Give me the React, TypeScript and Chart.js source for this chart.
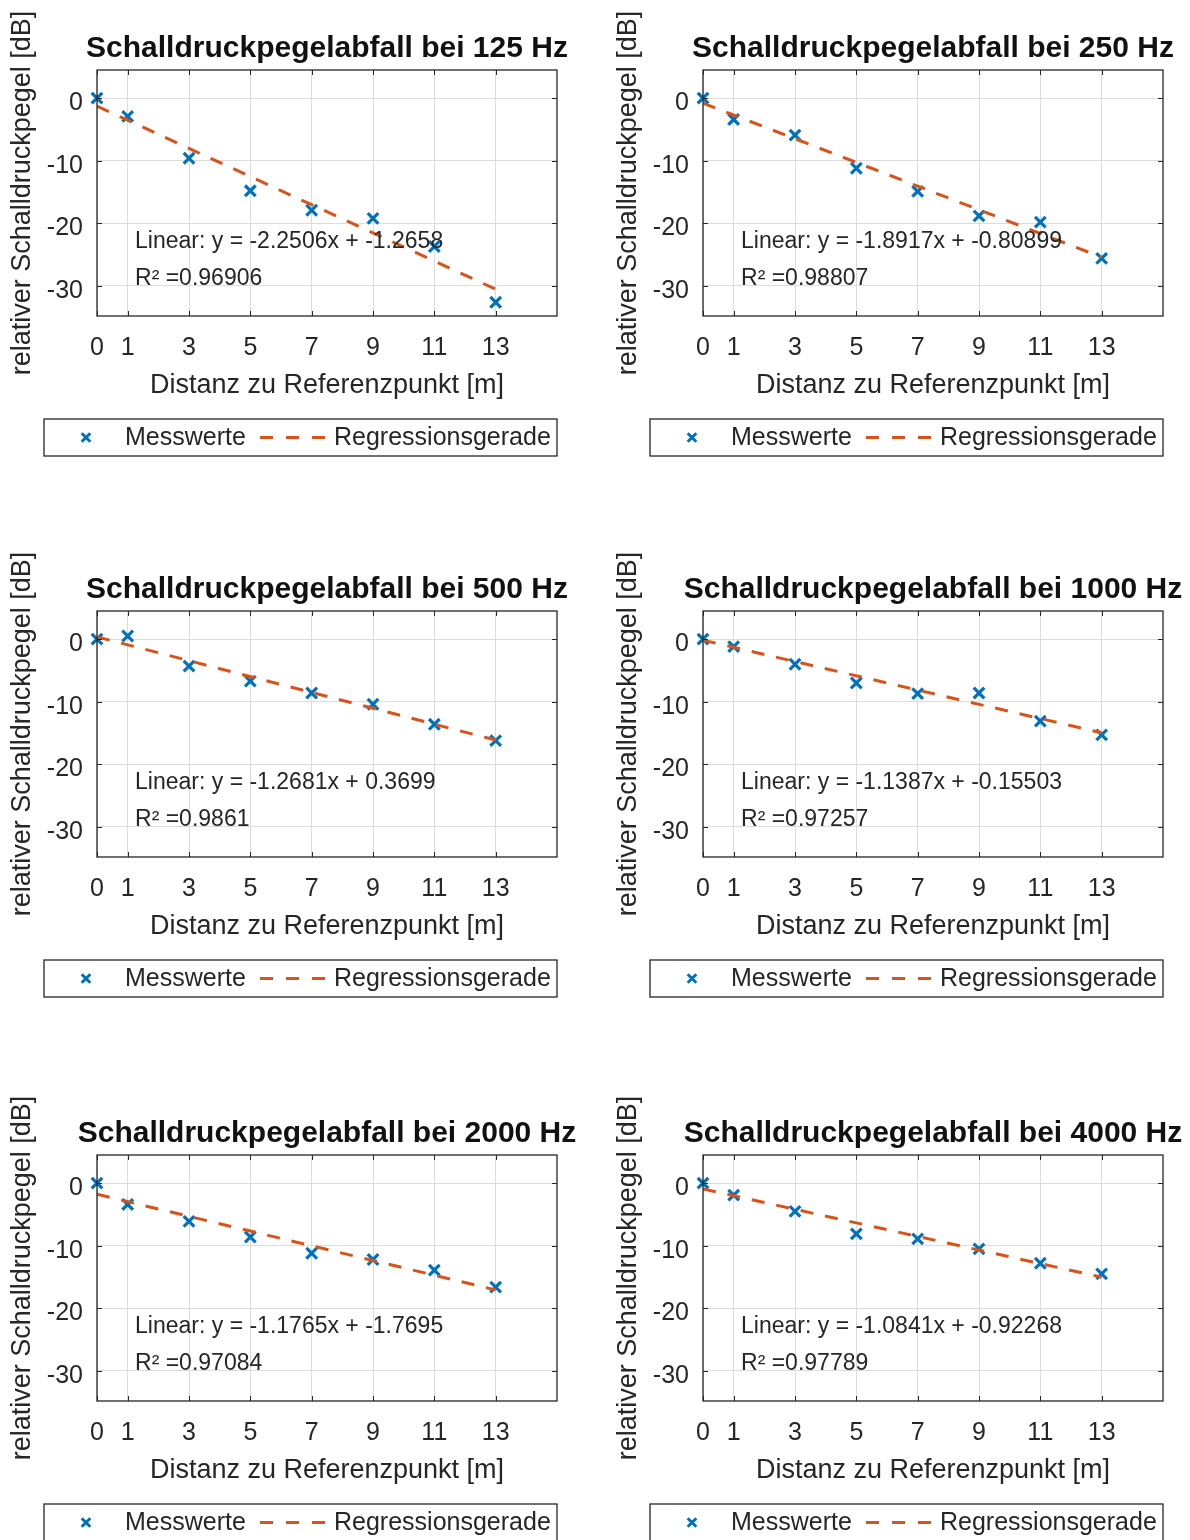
import React, { useEffect, useRef } from "react";
import { Chart, registerables } from "chart.js";

Chart.register(...registerables);

// ---------- data ----------
const distances = [0, 1, 3, 5, 7, 9, 11, 13];
const xTickValues = [0, 1, 3, 5, 7, 9, 11, 13];
const yTickValues = [-30, -20, -10, 0];
const frequencies = ["125", "250", "500", "1000", "2000", "4000"];

const level125 = [0, -2.9, -9.6, -14.8, -17.9, -19.2, -23.7, -32.6];
const level250 = [0, -3.4, -5.9, -11.2, -14.9, -18.8, -19.8, -25.6];
const level500 = [0, 0.5, -4.3, -6.7, -8.6, -10.4, -13.6, -16.2];
const level1000 = [0, -1.2, -4.0, -7.0, -8.7, -8.6, -13.1, -15.3];
const level2000 = [0, -3.4, -6.1, -8.6, -11.2, -12.2, -13.9, -16.6];
const level4000 = [0, -1.9, -4.5, -8.1, -8.9, -10.5, -12.8, -14.5];

const fitX = [0, 13];
const fit125 = [-1.27, -30.52];
const fit250 = [-0.81, -25.4];
const fit500 = [0.37, -16.12];
const fit1000 = [-0.16, -14.96];
const fit2000 = [-1.77, -17.06];
const fit4000 = [-0.92, -15.02];

const equations = [
  "Linear: y = -2.2506x + -1.2658",
  "Linear: y = -1.8917x + -0.80899",
  "Linear: y = -1.2681x + 0.3699",
  "Linear: y = -1.1387x + -0.15503",
  "Linear: y = -1.1765x + -1.7695",
  "Linear: y = -1.0841x + -0.92268",
];
const rSquared = ["0.96906", "0.98807", "0.9861", "0.97257", "0.97084", "0.97789"];

const seriesLabels = ["Messwerte", "Regressionsgerade"];
const xAxisTitle = "Distanz zu Referenzpunkt [m]";
const yAxisTitle = "relativer Schalldruckpegel [dB]";

const levels = [level125, level250, level500, level1000, level2000, level4000];
const fits = [fit125, fit250, fit500, fit1000, fit2000, fit4000];

// ---------- layout / style ----------
const FONT = "'Liberation Sans', Arial, Helvetica, sans-serif";
const BLUE = "#0072BD";
const ORANGE = "#D95319";
const AXIS = "#262626";
const GRID = "#dcdcdc";
const AREA = { left: 97, top: 70, right: 557, bottom: 316 };
const X_AXIS_H = 86;
const ANNOT_X = 1.24;
const ANNOT_Y = [-22.9, -28.8];
const COL_LEFT = [0, 606];
const ROW_TOP = [0, 541, 1085];
const CANVAS_H = 545;

const decorPlugin = {
  id: "matlabDecor",
  afterDraw(chart: any, _args: any, opts: any) {
    const { ctx, chartArea: a, scales } = chart;
    const xs = scales.x;
    const ys = scales.y;
    ctx.save();
    // box
    ctx.strokeStyle = AXIS;
    ctx.lineWidth = 1.3;
    ctx.strokeRect(a.left, a.top, a.right - a.left, a.bottom - a.top);
    // inward ticks
    ctx.lineWidth = 1;
    const tl = 5;
    ctx.beginPath();
    xTickValues.forEach((v) => {
      const px = Math.round(xs.getPixelForValue(v)) + 0.5;
      ctx.moveTo(px, a.bottom);
      ctx.lineTo(px, a.bottom - tl);
      ctx.moveTo(px, a.top);
      ctx.lineTo(px, a.top + tl);
    });
    yTickValues.forEach((v) => {
      const py = Math.round(ys.getPixelForValue(v)) + 0.5;
      ctx.moveTo(a.left, py);
      ctx.lineTo(a.left + tl, py);
      ctx.moveTo(a.right, py);
      ctx.lineTo(a.right - tl, py);
    });
    ctx.stroke();

    // title
    ctx.fillStyle = "#111";
    ctx.font = `bold 30px ${FONT}`;
    ctx.textAlign = "center";
    ctx.textBaseline = "alphabetic";
    ctx.fillText(opts.title, (a.left + a.right) / 2, 57);

    // annotations
    ctx.fillStyle = AXIS;
    ctx.font = `23px ${FONT}`;
    ctx.textAlign = "left";
    ctx.textBaseline = "middle";
    const ax = xs.getPixelForValue(ANNOT_X);
    ctx.fillText(opts.eq, ax, ys.getPixelForValue(ANNOT_Y[0]));
    ctx.fillText(opts.r2, ax, ys.getPixelForValue(ANNOT_Y[1]));

    // legend
    const lx = 44;
    const ly = 419;
    const lh = 37;
    const cy = ly + lh / 2;
    ctx.fillStyle = "#fff";
    ctx.fillRect(lx, ly, a.right - lx, lh);
    ctx.strokeStyle = AXIS;
    ctx.lineWidth = 1.3;
    ctx.strokeRect(lx, ly, a.right - lx, lh);
    // marker
    ctx.strokeStyle = BLUE;
    ctx.lineWidth = 3;
    const m = 4.3;
    ctx.beginPath();
    ctx.moveTo(86 - m, cy - m);
    ctx.lineTo(86 + m, cy + m);
    ctx.moveTo(86 + m, cy - m);
    ctx.lineTo(86 - m, cy + m);
    ctx.stroke();
    // dashed line
    ctx.strokeStyle = ORANGE;
    ctx.lineWidth = 3;
    ctx.setLineDash([13, 13]);
    ctx.beginPath();
    ctx.moveTo(260, cy);
    ctx.lineTo(330, cy);
    ctx.stroke();
    ctx.setLineDash([]);
    ctx.fillStyle = AXIS;
    ctx.font = `25px ${FONT}`;
    ctx.textAlign = "left";
    ctx.textBaseline = "middle";
    ctx.fillText(seriesLabels[0], 125, cy + 1);
    ctx.fillText(seriesLabels[1], 334, cy + 1);
    ctx.restore();
  },
};

function Panel({ index }: { index: number }) {
  const ref = useRef<HTMLCanvasElement>(null);
  const col = index % 2;
  const row = Math.floor(index / 2);
  const width = col === 0 ? 600 : 1190 - COL_LEFT[1];
  const height = CANVAS_H;

  useEffect(() => {
    const canvas = ref.current;
    if (!canvas) return;
    const chart = new Chart(canvas, {
      type: "scatter",
      data: {
        datasets: [
          {
            label: seriesLabels[0],
            data: distances.map((d, i) => ({ x: d, y: levels[index][i] })),
            pointStyle: "crossRot",
            pointRadius: 7.5,
            pointBorderWidth: 3.2,
            borderColor: BLUE,
            backgroundColor: BLUE,
            showLine: false,
            clip: false,
            order: 1,
          } as any,
          {
            label: seriesLabels[1],
            data: fitX.map((d, i) => ({ x: d, y: fits[index][i] })),
            showLine: true,
            pointRadius: 0,
            borderColor: ORANGE,
            borderWidth: 3,
            borderDash: [13, 12],
            fill: false,
            order: 0,
          } as any,
        ],
      },
      options: {
        responsive: false,
        animation: false,
        devicePixelRatio: 1,
        events: [],
        layout: {
          padding: {
            left: 0,
            top: AREA.top,
            right: width - AREA.right,
            bottom: height - AREA.bottom - X_AXIS_H,
          },
        },
        plugins: {
          legend: { display: false },
          tooltip: { enabled: false },
          matlabDecor: {
            title: `Schalldruckpegelabfall bei ${frequencies[index]} Hz`,
            eq: equations[index],
            r2: `R² =${rSquared[index]}`,
          },
        } as any,
        scales: {
          x: {
            type: "linear",
            min: 0,
            max: 15,
            afterBuildTicks: (s: any) => {
              s.ticks = xTickValues.map((v) => ({ value: v }));
            },
            afterFit: (s: any) => {
              s.height = X_AXIS_H;
            },
            grid: { color: GRID, lineWidth: 1, drawTicks: false },
            border: { display: false },
            ticks: {
              autoSkip: false,
              maxRotation: 0,
              padding: 17,
              color: AXIS,
              font: { size: 25, family: FONT },
              callback: (v: any) => String(v),
            },
            title: {
              display: true,
              text: xAxisTitle,
              color: AXIS,
              font: { size: 27, family: FONT },
              padding: { top: 0, bottom: 0 },
            },
          },
          y: {
            type: "linear",
            min: -34.8,
            max: 4.5,
            afterBuildTicks: (s: any) => {
              s.ticks = yTickValues.map((v) => ({ value: v }));
            },
            afterFit: (s: any) => {
              s.width = AREA.left;
            },
            grid: { color: GRID, lineWidth: 1, drawTicks: false },
            border: { display: false },
            ticks: {
              autoSkip: false,
              padding: 14,
              labelOffset: 5,
              color: AXIS,
              font: { size: 25, family: FONT },
              callback: (v: any) => String(v),
            },
            title: {
              display: true,
              text: yAxisTitle,
              color: AXIS,
              font: { size: 27, family: FONT },
              padding: { top: 6, bottom: 0 },
            },
          },
        },
      } as any,
      plugins: [decorPlugin],
    });
    return () => chart.destroy();
  }, [index, width, height]);

  return (
    <canvas
      ref={ref}
      width={width}
      height={height}
      style={{
        position: "absolute",
        left: COL_LEFT[col],
        top: ROW_TOP[row],
        width,
        height,
      }}
    />
  );
}

export default function App() {
  useEffect(() => {
    document.body.style.margin = "0";
  }, []);
  return (
    <div
      style={{
        position: "relative",
        width: 1190,
        height: 1540,
        overflow: "hidden",
        background: "#fff",
      }}
    >
      {frequencies.map((_, i) => (
        <Panel key={i} index={i} />
      ))}
    </div>
  );
}
